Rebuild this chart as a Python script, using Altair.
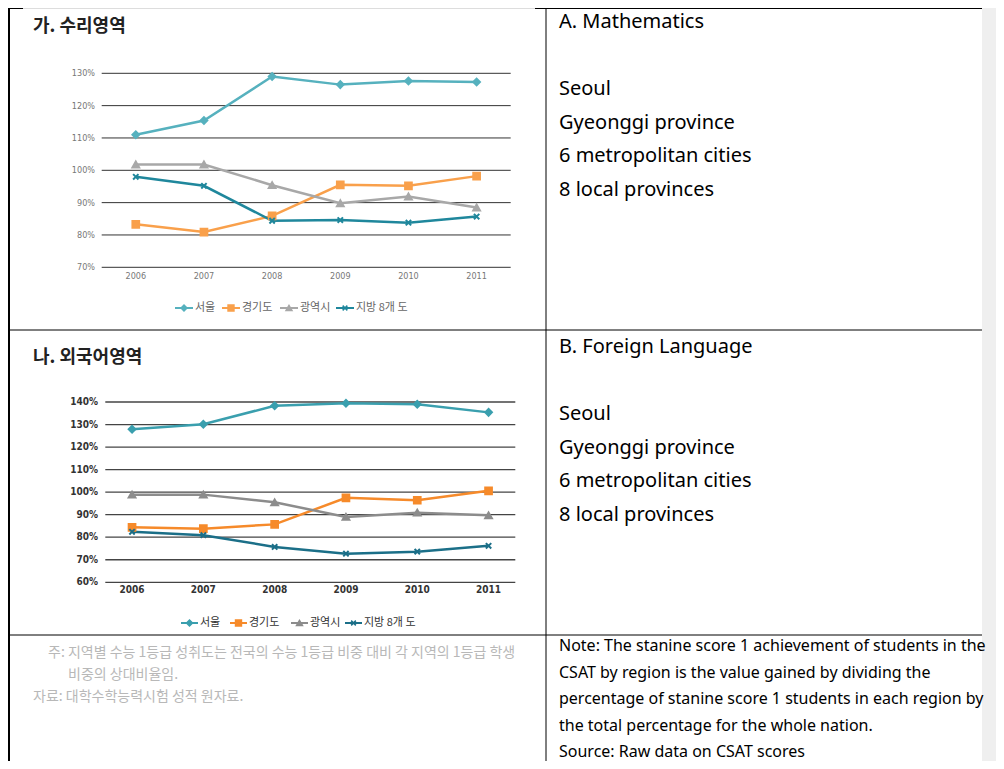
import altair as alt
import pandas as pd

# ---------------- data ----------------
years = ["2006", "2007", "2008", "2009", "2010", "2011"]
series_ko = ["서울", "경기도", "광역시", "지방 8개 도"]

math_seoul = [111.0, 115.4, 129.0, 126.5, 127.6, 127.3]
math_gyeonggi = [83.3, 80.9, 85.9, 95.5, 95.2, 98.2]
math_metro = [101.8, 101.8, 95.4, 89.8, 91.9, 88.5]
math_local = [98.0, 95.2, 84.4, 84.6, 83.8, 85.7]

lang_seoul = [127.9, 130.1, 138.3, 139.4, 139.0, 135.4]
lang_gyeonggi = [84.4, 83.8, 85.7, 97.5, 96.4, 100.6]
lang_metro = [98.9, 98.9, 95.5, 89.0, 90.9, 89.7]
lang_local = [82.4, 80.9, 75.7, 72.7, 73.6, 76.2]

math_ticks = [70, 80, 90, 100, 110, 120, 130]
lang_ticks = [60, 70, 80, 90, 100, 110, 120, 130, 140]

title_math = "가. 수리영역"
title_lang = "나. 외국어영역"
en_math = ["A. Mathematics", "", "Seoul", "Gyeonggi province", "6 metropolitan cities", "8 local provinces"]
en_lang = ["B. Foreign Language", "", "Seoul", "Gyeonggi province", "6 metropolitan cities", "8 local provinces"]
note_ko = ["주: 지역별 수능 1등급 성취도는 전국의 수능 1등급 비중 대비 각 지역의 1등급 학생",
           "비중의 상대비율임.",
           "자료: 대학수학능력시험 성적 원자료."]
note_en = ["Note: The stanine score 1 achievement of students in the",
           "CSAT by region is the value gained by dividing the",
           "percentage of stanine score 1 students in each region by",
           "the total percentage for the whole nation.",
           "Source: Raw data on CSAT scores"]

shapes = ["diamond", "square", "triangle-up", "M-0.8,-0.8L0.8,0.8M-0.8,0.8L0.8,-0.8"]
colors1 = ["#56b1be", "#f9a04b", "#a8a8a8", "#1f879c"]
colors2 = ["#3a9fae", "#f68a2a", "#8c8c8c", "#1b6f88"]

W, H = 988, 753
FONT_KO = "Noto Sans CJK KR"
FONT_EN = "Noto Sans"


def long_df(vals):
    rows = []
    for s, v in zip(series_ko, vals):
        for y, val in zip(years, v):
            rows.append({"series": s, "year": y, "value": val})
    return pd.DataFrame(rows)


def line_panel(vals, ticks, yrange, xrange, xpad, colors, lab_x, xlab_y, lab_size, lab_color,
               lab_weight, grid_color, grid_w, lw):
    df = long_df(vals)
    xs = alt.Scale(type="point", domain=years, range=xrange, padding=xpad)
    ys = alt.Scale(domain=[ticks[0], ticks[-1]], range=yrange)
    tdf = pd.DataFrame({"v": ticks, "lab": [f"{t}%" for t in ticks]})
    grid = alt.Chart(tdf).mark_rule(color=grid_color, strokeWidth=grid_w).encode(
        y=alt.Y("v:Q", scale=ys, axis=None),
        x=alt.value(xrange[0]), x2=alt.value(xrange[1]))
    ylab = alt.Chart(tdf).mark_text(align="right", baseline="middle", fontSize=lab_size,
                                    color=lab_color, font="DejaVu Sans Condensed",
                                    fontWeight=lab_weight).encode(
        y=alt.Y("v:Q", scale=ys, axis=None), x=alt.value(lab_x), text="lab:N")
    xlab = alt.Chart(pd.DataFrame({"year": years})).mark_text(
        align="center", baseline="middle", fontSize=lab_size, color=lab_color,
        font="DejaVu Sans Condensed", fontWeight=lab_weight).encode(
        x=alt.X("year:N", scale=xs, axis=None), y=alt.value(xlab_y), text="year:N")
    cscale = alt.Scale(domain=series_ko, range=colors)
    lines = alt.Chart(df).mark_line(strokeWidth=lw).encode(
        x=alt.X("year:N", scale=xs, axis=None),
        y=alt.Y("value:Q", scale=ys, axis=None),
        color=alt.Color("series:N", scale=cscale, legend=None),
        detail="series:N")
    pts = alt.Chart(df).mark_point(filled=True, size=45, strokeWidth=2, opacity=1).encode(
        x=alt.X("year:N", scale=xs, axis=None),
        y=alt.Y("value:Q", scale=ys, axis=None),
        fill=alt.Fill("series:N", scale=cscale, legend=None),
        stroke=alt.Stroke("series:N", scale=cscale, legend=None),
        shape=alt.Shape("series:N", scale=alt.Scale(domain=series_ko, range=shapes), legend=None))
    return alt.layer(grid, ylab, xlab, lines, pts)


def legend_layers(starts, y, colors, txt_color, size, seg=18):
    out = []
    for s, x0, c, sh in zip(series_ko, starts, colors, shapes):
        out.append(alt.Chart(pd.DataFrame({"s": [s]})).mark_rule(color=c, strokeWidth=2).encode(
            x=alt.value(x0), x2=alt.value(x0 + seg), y=alt.value(y)))
        out.append(alt.Chart(pd.DataFrame({"s": [s]})).mark_point(
            shape=sh, filled=True, fill=c, stroke=c, strokeWidth=1.5, size=35, opacity=1).encode(
            x=alt.value(x0 + seg / 2), y=alt.value(y)))
        out.append(alt.Chart(pd.DataFrame({"s": [s]})).mark_text(
            align="left", baseline="middle", fontSize=size, color=txt_color, font=FONT_KO).encode(
            x=alt.value(x0 + seg + 2), y=alt.value(y), text="s:N"))
    return out


def text_lines(lines, x, y0, dy, size, color, font, weight="normal"):
    df = pd.DataFrame({"t": lines, "i": list(range(len(lines)))})
    df = df[df["t"] != ""]
    return alt.Chart(df).transform_calculate(py=f"{y0} + datum.i * {dy}").mark_text(
        align="left", baseline="middle", fontSize=size, color=color, font=font,
        fontWeight=weight).encode(x=alt.value(x), y=alt.Y("py:Q", scale=None), text="t:N")


def rule(x, x2, y, y2, w=1, c="#000"):
    return alt.Chart(pd.DataFrame({"a": [0]})).mark_rule(color=c, strokeWidth=w).encode(
        x=alt.value(x), x2=alt.value(x2), y=alt.value(y), y2=alt.value(y2))


strip = alt.Chart(pd.DataFrame({"a": [0]})).mark_rect(color="#efefef").encode(
    x=alt.value(974), x2=alt.value(W), y=alt.value(0), y2=alt.value(H))

borders = [
    rule(0, 15, 0.5, 0.5),
    rule(527, 974, 0.5, 0.5),
    rule(1, 1, 0, H, 2),
    rule(538, 538, 0, H),
    rule(0, 974, 322, 322),
    rule(0, 974, 627, 627),
]

panel1 = line_panel([math_seoul, math_gyeonggi, math_metro, math_local], math_ticks,
                    [259.3, 65.3], [93.7, 502.7], 0.5, colors1, 87, 268, 9, "#777777",
                    "normal", "#333333", 1, 2.5)
panel2 = line_panel([lang_seoul, lang_gyeonggi, lang_metro, lang_local], lang_ticks,
                    [574.3, 394], [97.3, 507.3], 0.375, colors2, 90, 582, 10, "#333333",
                    "bold", "#444444", 1.3, 2.5)

titles = [
    alt.Chart(pd.DataFrame({"t": [title_math]})).mark_text(
        align="left", baseline="middle", fontSize=18, fontWeight="bold", color="#222222",
        font=FONT_KO).encode(x=alt.value(25), y=alt.value(19), text="t:N"),
    alt.Chart(pd.DataFrame({"t": [title_lang]})).mark_text(
        align="left", baseline="middle", fontSize=18, fontWeight="bold", color="#222222",
        font=FONT_KO).encode(x=alt.value(25), y=alt.value(350), text="t:N"),
]

texts = [
    text_lines(en_math, 551, 14, 33.6, 20, "#000000", FONT_EN),
    text_lines(en_lang, 551, 339, 33.6, 20, "#000000", FONT_EN),
    text_lines(note_en, 551, 638, 26.5, 16, "#000000", FONT_EN),
    alt.Chart(pd.DataFrame({"t": [note_ko[0]]})).mark_text(
        align="left", baseline="middle", fontSize=14, color="#b8b8b8", font=FONT_KO).encode(
        x=alt.value(40), y=alt.value(645), text="t:N"),
    alt.Chart(pd.DataFrame({"t": [note_ko[1]]})).mark_text(
        align="left", baseline="middle", fontSize=14, color="#b8b8b8", font=FONT_KO).encode(
        x=alt.value(60), y=alt.value(667), text="t:N"),
    alt.Chart(pd.DataFrame({"t": [note_ko[2]]})).mark_text(
        align="left", baseline="middle", fontSize=14, color="#b8b8b8", font=FONT_KO).encode(
        x=alt.value(25), y=alt.value(689), text="t:N"),
]

leg1 = legend_layers([167, 214, 272, 328], 300, colors1, "#666666", 11)
leg2 = legend_layers([173, 222, 283, 337], 615, colors2, "#333333", 11, seg=17)

chart = alt.layer(strip, *borders, *titles, *texts, panel1, panel2, *leg1, *leg2).resolve_scale(
    x="independent", y="independent", color="independent", fill="independent",
    stroke="independent", shape="independent"
).properties(width=W, height=H, padding=0, autosize=alt.AutoSizeParams(type="none")
).configure_view(stroke=None).configure(background="white")

chart.save("out.html", embed_options={"renderer": "svg", "actions": False})
